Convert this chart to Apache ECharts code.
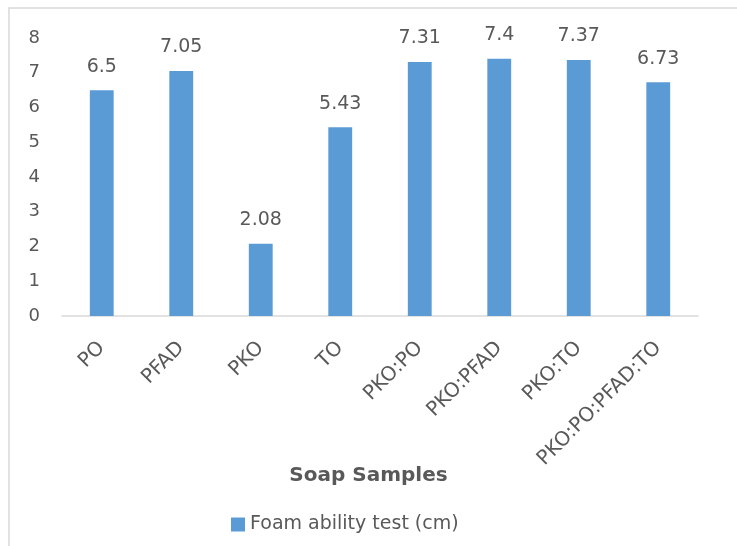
<!DOCTYPE html>
<html><head><meta charset="utf-8">
<script src="https://cdn.jsdelivr.net/npm/echarts@6/dist/echarts.min.js"></script>
<style>html,body{margin:0;padding:0;background:#fff}#c{width:737px;height:546px}</style>
</head><body><div id="c"></div>
<script>
var categories = ["PO","PFAD","PKO","TO","PKO:PO","PKO:PFAD","PKO:TO","PKO:PO:PFAD:TO"];
var values = [6.5, 7.05, 2.08, 5.43, 7.31, 7.4, 7.37, 6.73];
var labels = ["6.5","7.05","2.08","5.43","7.31","7.4","7.37","6.73"];
var seriesName = "Foam ability test (cm)";
var xTitle = "Soap Samples";
var FONT = "DejaVu Sans";
var chart = echarts.init(document.getElementById('c'));
chart.setOption({
  animation:false,
  graphic:[{type:'rect',shape:{x:9,y:8,width:800,height:600},style:{fill:'none',stroke:'#D9D9D9',lineWidth:1.5},z:-1},
    {type:'text',left:'center',top:466,style:{text:xTitle,font:'bold 20px "'+FONT+'"',fill:'#595959'}}],
  legend:{top:510,left:226,data:[seriesName],itemWidth:14,itemHeight:14,icon:'rect',itemGap:6,
    textStyle:{fontFamily:FONT,fontSize:19,color:'#595959'}},
  grid:{left:62,right:39,top:38,bottom:230},
  xAxis:{type:'category',data:categories,
    axisLine:{lineStyle:{color:'#D9D9D9',width:1.5}},axisTick:{show:false},
    axisLabel:{rotate:45,fontFamily:FONT,fontSize:20,color:'#595959',margin:29,interval:0}},
  yAxis:{type:'value',min:0,max:8,interval:1,splitLine:{show:false},
    axisLabel:{fontFamily:FONT,fontSize:18,color:'#595959',margin:22}},
  series:[{type:'bar',name:seriesName,barWidth:'30%',
    data:values.map(function(v,i){return {value:v,label:{formatter:labels[i]}};}),
    itemStyle:{color:'#5B9BD5'},
    label:{show:true,position:'top',distance:14,fontFamily:FONT,fontSize:19,color:'#595959'}}]
});
</script></body></html>
